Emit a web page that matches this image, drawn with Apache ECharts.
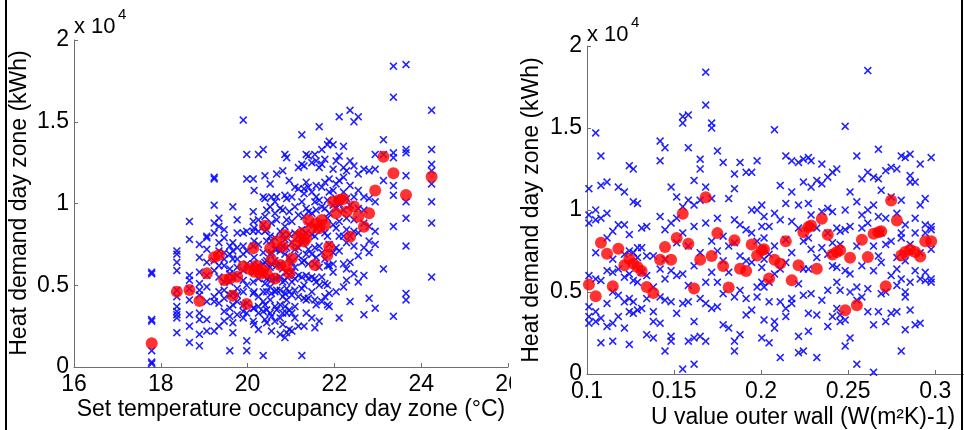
<!DOCTYPE html>
<html><head><meta charset="utf-8">
<script src="https://cdn.jsdelivr.net/npm/echarts@6/dist/echarts.min.js"></script>
<style>
html,body{margin:0;padding:0;background:#fff;width:964px;height:430px;overflow:hidden;position:relative}
#left{position:absolute;left:0;top:0;width:511px;height:430px}
#right{position:absolute;left:511px;top:0;width:453px;height:430px}
</style></head><body>
<div id="left"></div><div id="right"></div>
<script>
// ---------- Left panel: set temperature vs heat demand ----------
const leftXTicks = [16, 18, 20, 22, 24, 26];
const leftYTicks = [0, 5000, 10000, 15000, 20000];
const leftXTitle = 'Set temperature occupancy day zone (°C)';
const yTitle = 'Heat demand day zone (kWh)';
// blue samples, grouped per set temperature value: [x, [heat demand kWh ...]]
const leftBlue = [
 [17.79,[5800,5700,2800,1000,300,200,2900]],
 [18.37,[7100,6900,6400,5900,4700,4300,3700,3400,3200,2100,3000]],
 [18.66,[8900,7800,5600,5300,4800,3200,2500,1500,4100]],
 [18.89,[7500,6700,5800,5100,4400,3300,2900,2000,1300,4700]],
 [19.06,[8000,7900,7200,6400,5600,4900,4000,2900,2200]],
 [19.23,[11600,11500,9900,8800,8200,6500,4300,4000,2200,5900]],
 [19.34,[9100,8600,7600,7100,6200,5500,3900,2500,4600]],
 [19.46,[8400,7900,7000,6200,5200,4200,3400,2800,4700,6600]],
 [19.59,[7400,6900,6000,5200,4400,3600,3100,1000,5700]],
 [19.66,[9800,7600,6600,5500,4500,3800,2700,2100,7100]],
 [19.76,[9000,8200,7300,6600,5600,4800,4000,3200,4400,6100]],
 [19.90,[15100,8200,7400,6900,5900,4600,3400,3000,5300,3800]],
 [19.98,[13000,11500,8300,6300,5000,3900,3300,1600,1000,7100]],
 [20.13,[11500,9500,8900,8300,7400,6300,5200,3600,2800,4500]],
 [20.15,[10800,8500,6700,5800,4600,3600,2600,7700]],
 [20.25,[13000,9000,7500,6200,5400,4300,3300,2300,8300,3700]],
 [20.36,[13300,10400,8700,7000,5700,4600,3400,700,6300,4000]],
 [20.40,[11700,10300,9200,8300,6400,5100,3800,2900]],
 [20.44,[9600,7700,6500,5400,4600,3500,2700,8400]],
 [20.52,[11200,9800,8000,6900,6100,4900,4100,3300,5500]],
 [20.55,[10400,8800,7700,6300,5300,4500,3100,2200,7000]],
 [20.63,[9400,7900,6500,5400,4600,3700,2800,10100,7200]],
 [20.67,[11800,10400,9000,7200,6200,4700,3500,5400]],
 [20.75,[9700,8300,7100,6300,5500,4700,3000,2000,3800]],
 [20.81,[12000,9600,8100,7400,6000,4300,3300,5200,2600]],
 [20.86,[13000,10500,8600,7800,6900,5300,3700,1800,4500]],
 [20.90,[12800,9000,7300,5800,4800,4100,2100,10300,3300]],
 [20.96,[11400,8100,6700,5600,4600,3500,2300,9500]],
 [21.02,[10400,8900,7600,6400,5200,4400,3300,2200,5800]],
 [21.09,[11000,9800,8200,7200,6100,4700,3700,5400,3000]],
 [21.17,[12200,10900,9300,8000,6800,5600,4300,2500,7300]],
 [21.25,[14200,12400,10100,8400,7600,6400,4800,700,5500]],
 [21.30,[12300,10600,9200,7700,6500,5000,2500,4200,10900]],
 [21.35,[13000,11300,9700,8200,6900,5600,4100,3300]],
 [21.40,[12900,11000,9500,8700,7200,5400,4200,6300]],
 [21.48,[12500,10700,9400,8100,6900,5500,3000,4600]],
 [21.55,[13000,10100,8000,6300,5400,4100,2400,7300]],
 [21.58,[12600,11100,9600,8500,6700,5200,3800,10400]],
 [21.65,[14700,12200,10200,8800,7400,6100,2800,5000]],
 [21.71,[13300,11000,9800,8400,7000,5500,4000,12400]],
 [21.78,[12700,11300,9700,8200,6600,5100,4300]],
 [21.84,[13600,10200,8000,6200,5000,3800,9100]],
 [21.88,[13800,11500,9400,7500,6200,4500,3700,10700]],
 [21.97,[13600,12100,10800,9900,8700,7000,5800,6300]],
 [22.04,[12600,11200,9700,8500,7300,4600,10300]],
 [22.11,[15300,12900,11400,10000,8900,7100,3000,8000]],
 [22.21,[13500,12200,10700,9600,8000,6300,4900,11600]],
 [22.28,[12000,10300,9100,7600,6000,5300,8400]],
 [22.36,[15700,12600,9900,8000,6400,4000,11100]],
 [22.45,[15000,12300,10400,9000,7400,5700,8300]],
 [22.55,[15300,11800,9700,8200,6800,5200,10800]],
 [22.68,[12100,10400,8800,7300,5600,3200,9600]],
 [22.80,[12000,10300,8600,7000,4200,7700]],
 [22.94,[13000,12100,10100,8300,3600,7500]],
 [23.13,[13900,13000,11400,6000]],
 [23.36,[18400,16500,13100,12800,11100,10500,8600,3100]],
 [23.65,[18500,13300,13100,11700,10100,9100,7400,4500,4100]],
 [24.24,[15700,13300,12400,12000,11200,10100,8800,5500]]
];
// red markers (mean per set temperature)
const leftRed = [
 [17.79,1450],[18.37,4610],[18.66,4710],[18.89,4040],[19.06,5730],[19.23,6710],[19.34,6850],
 [19.46,5320],[19.59,5420],[19.66,4360],[19.76,5520],[19.90,6140],[19.98,3850],[20.05,6000],
 [20.13,7260],[20.15,5830],[20.20,6200],[20.25,5930],[20.30,5700],[20.36,5930],[20.40,8640],
 [20.44,5730],[20.52,7260],[20.55,6540],[20.63,5420],[20.67,7670],[20.75,6240],[20.81,7360],
 [20.86,8070],[20.90,6140],[20.96,5730],[21.02,6650],[21.09,7460],[21.17,7970],[21.25,8180],
 [21.30,7670],[21.35,7870],[21.40,8990],[21.48,8480],[21.55,6240],[21.58,8790],[21.65,8480],
 [21.71,8990],[21.78,8690],[21.84,6850],[21.88,7360],[21.97,10110],[22.04,9400],[22.11,10210],
 [22.21,10280],[22.28,9500],[22.36,7970],[22.45,9810],[22.55,9200],[22.68,8580],[22.80,9400],
 [22.94,10790],[23.13,12860],[23.36,11850],[23.65,10520],[24.24,11640]
];

// ---------- Right panel: U value outer wall vs heat demand ----------
const rightXTicks = [0.1, 0.15, 0.2, 0.25, 0.3];
const rightYTicks = [0, 5000, 10000, 15000, 20000];
const rightXTitle = 'U value outer wall (W(m²K)-1)';
const rightBlue = [
 [0.1011,[11300,9200,9700,4100,3500,3100,6000]],
 [0.1050,[14700,10000,9400,5800,3800,3200,7400]],
 [0.1080,[13300,11500,9500,5700,1900,3400]],
 [0.1115,[11700,8300,6300,4300,2900,9800]],
 [0.1148,[8700,6200,5000,3100,2000,7000]],
 [0.1180,[11400,9100,6400,3500,4800]],
 [0.1215,[9100,7300,5900,4400,2800,11100]],
 [0.1243,[12700,7500,6100,4600,3800,1800,8500]],
 [0.1266,[12500,10500,7400,4400,3700,5700]],
 [0.1290,[10400,7700,5600,3900,7100]],
 [0.1314,[7700,6200,4000,8900]],
 [0.1343,[9000,7200,4600,2400,6000]],
 [0.1381,[7200,5300,3200,2200,3800]],
 [0.1420,[14200,13000,9600,6400,3100,4700]],
 [0.1448,[13800,8800,7000,4500,1400,5800]],
 [0.1483,[11400,9200,4400,2300,2000,6300]],
 [0.1515,[10800,8000,6000,3700,9500]],
 [0.1550,[15700,15300,10200,6100,4300,300,8600]],
 [0.1582,[15800,13800,10600,7800,5400,2000,4400]],
 [0.1615,[11800,9000,6600,3200,600,2200,10300]],
 [0.1650,[13100,12500,10600,4600,2300,7400]],
 [0.1682,[18400,16400,11400,9200,5600,4300,2000]],
 [0.1716,[15300,15000,10700,6200,4000,8100]],
 [0.1749,[13600,9500,5600,4100,7500]],
 [0.1782,[12900,8400,6900,3000,4900]],
 [0.1814,[10700,7800,2800,6200]],
 [0.1847,[12200,11300,8000,4700,2000,1400,9400]],
 [0.1879,[12900,9100,5100,2400,7200]],
 [0.1914,[12300,8800,6900,4600,3600]],
 [0.1946,[12300,8600,6800,3900,10000]],
 [0.1977,[13000,10000,5300,4700,8100]],
 [0.2004,[10300,9000,5600,2200,6500]],
 [0.2017,[8300,7000,5300,3300,9600]],
 [0.2046,[9000,7300,4400,1900,5600]],
 [0.2077,[14900,9800,7800,3200,2800,6100]],
 [0.2110,[11500,9400,6400,1000,4400]],
 [0.2142,[13300,10400,8200,4000,3500,6800]],
 [0.2176,[13000,11100,9300,4600,4300,7400]],
 [0.2215,[12900,10300,8900,2300,1300,5500]],
 [0.2243,[13100,11700,8100,4800,1400,6400]],
 [0.2272,[13200,10400,6400,3700,2600,8300]],
 [0.2287,[13000,9700,7600,4900,11400]],
 [0.2320,[11800,8900,3600,1000,7100]],
 [0.2349,[12800,11600,7700,4500,9900]],
 [0.2383,[12000,10100,7300,5100,2900,8600]],
 [0.2410,[12300,9900,6600,3500,8000]],
 [0.2435,[12500,8900,6500,4000,5600]],
 [0.2454,[8700,7900,5100,3200,3600]],
 [0.2483,[15100,10000,6300,3300,1700,8800]],
 [0.2511,[11100,9000,6100,2200,5000]],
 [0.2550,[13300,10500,7800,5300,600,4500]],
 [0.2579,[11900,9700,6600,4700,8900]],
 [0.2613,[18500,12300,9200,5200,3800,10000]],
 [0.2646,[12000,10300,7800,3000,100,6300]],
 [0.2674,[13700,11900,7200,3800,9600]],
 [0.2690,[11200,8600,4900,6800]],
 [0.2716,[12400,9500,5000,3200,7900]],
 [0.2747,[12600,10800,8100,6000,3700]],
 [0.2780,[12500,9800,7100,5400,3800,6400]],
 [0.2805,[13300,10600,8300,5800,1400,8600]],
 [0.2828,[13200,9100,6900,5000,2700,4700]],
 [0.2856,[13400,12100,7900,5600,3900,11700]],
 [0.2885,[11700,8600,6300,3000,9500]],
 [0.2914,[12800,10300,7400,5800,3100]],
 [0.2943,[10700,9100,8600,6200,5700]],
 [0.2977,[13200,9000,8800,5600,5800,7600]]
];
const rightRed = [
 [0.1011,5450],[0.1050,4740],[0.1080,8000],[0.1115,7330],[0.1148,5350],[0.1180,7640],[0.1215,6630],
 [0.1243,7030],[0.1266,6730],[0.1290,6520],[0.1314,6280],[0.1343,5310],[0.1381,4940],[0.1420,6970],
 [0.1448,7740],[0.1483,6970],[0.1515,8290],[0.1550,9770],[0.1582,7940],[0.1615,5210],[0.1650,6970],
 [0.1682,10780],[0.1716,7190],[0.1749,8590],[0.1782,6590],[0.1814,5270],[0.1847,8150],[0.1879,6420],
 [0.1914,6280],[0.1946,7900],[0.1977,7230],[0.2004,7540],[0.2017,7600],[0.2046,5820],[0.2077,6970],
 [0.2110,6730],[0.2142,8100],[0.2176,5710],[0.2215,6630],[0.2243,8650],[0.2272,8960],[0.2287,9060],
 [0.2320,6420],[0.2349,9460],[0.2383,8490],[0.2410,7290],[0.2435,7440],[0.2454,7540],[0.2483,3890],
 [0.2511,7090],[0.2550,4190],[0.2579,8190],[0.2613,7130],[0.2646,8550],[0.2674,8650],[0.2690,8710],
 [0.2716,5350],[0.2747,10580],[0.2780,9360],[0.2805,7230],[0.2828,7440],[0.2856,7580],[0.2885,7440],
 [0.2914,7170],[0.2943,8100],[0.2977,8100]
];

// ---------- shared styling ----------
const FONT = '"Liberation Sans", Arial, sans-serif';
const XSYM = 'path://M0,1.4L1.4,0L5,3.6L8.6,0L10,1.4L6.4,5L10,8.6L8.6,10L5,6.4L1.4,10L0,8.6L3.6,5Z';
const AX = '#6e6e6e';
function flatten(cols){ const out=[]; cols.forEach(c=>c[1].forEach(v=>out.push([c[0],v]))); return out; }

function makeOption(p){
  const base = {fontFamily: FONT, fontSize: 23, color: '#000'};
  return {
    animation: false,
    backgroundColor: '#fff',
    grid: Object.assign({containLabel: false, outerBoundsMode: 'none'}, p.grid),
    xAxis: {
      type: 'value', min: p.xTicks[0], max: p.xMax, interval: p.xTicks[1]-p.xTicks[0],
      splitLine: {show: false},
      axisLine: {show: true, lineStyle: {color: AX, width: 1}},
      axisTick: {show: true, inside: true, length: 4, lineStyle: {color: AX}},
      axisLabel: Object.assign({margin: 6, showMaxLabel: p.showMaxX, hideOverlap: false, formatter: p.xFmt}, base)
    },
    yAxis: {
      type: 'value', min: p.yTicks[0], max: p.yTicks[p.yTicks.length-1], interval: p.yTicks[1]-p.yTicks[0],
      splitLine: {show: false},
      axisLine: {show: true, lineStyle: {color: AX, width: 1}},
      axisTick: {show: true, inside: true, length: 4, lineStyle: {color: AX}},
      axisLabel: Object.assign({margin: 5, formatter: v => String(v/10000)}, base)
    },
    series: [
      {type: 'scatter', data: flatten(p.blue), symbol: XSYM, symbolSize: 8, z: 2,
       itemStyle: {color: '#0a0aff', opacity: 0.9}, silent: true},
      {type: 'scatter', data: p.red, symbol: 'circle', symbolSize: 12, z: 3,
       itemStyle: {color: '#ff0000'}, silent: true}
    ],
    graphic: p.graphic
  };
}
function txt(x, y, text, size, align, rot){
  return {type: 'text', x: x, y: y, rotation: rot || 0, z: 10,
    style: {text: text, font: size + 'px ' + FONT, fill: '#000',
      align: align, verticalAlign: 'middle', textAlign: align, textVerticalAlign: 'middle'}};
}

const left = echarts.init(document.getElementById('left'), null, {renderer: 'canvas'});
left.setOption(makeOption({
  grid: {left: 74, top: 40, width: 434, height: 327},
  xTicks: leftXTicks, xMax: 26, showMaxX: true, xFmt: v => String(v),
  yTicks: leftYTicks, blue: leftBlue, red: leftRed,
  graphic: [
    txt(291, 410, leftXTitle, 23, 'center'),
    txt(20, 203, yTitle, 23, 'center', Math.PI/2),
    txt(74, 27, 'x 10', 22, 'left'),
    txt(118, 15, '4', 15, 'left'),
    {type: 'rect', shape: {x: 5, y: 0, width: 2, height: 430}, style: {fill: '#000'}, z: 10}
  ]
}));

const right = echarts.init(document.getElementById('right'), null, {renderer: 'canvas'});
right.setOption(makeOption({
  grid: {left: 76, top: 46, width: 383, height: 328},
  xTicks: rightXTicks, xMax: 0.32, showMaxX: false, xFmt: v => String(+v.toFixed(2)),
  yTicks: rightYTicks, blue: rightBlue, red: rightRed,
  graphic: [
    txt(292, 418, rightXTitle, 23, 'center'),
    txt(21, 210, yTitle, 23, 'center', Math.PI/2),
    txt(76, 35, 'x 10', 22, 'left'),
    txt(120, 23, '4', 15, 'left'),
    {type: 'rect', shape: {x: 450, y: 0, width: 2, height: 430}, style: {fill: '#000'}, z: 10}
  ]
}));
</script>
</body></html>
